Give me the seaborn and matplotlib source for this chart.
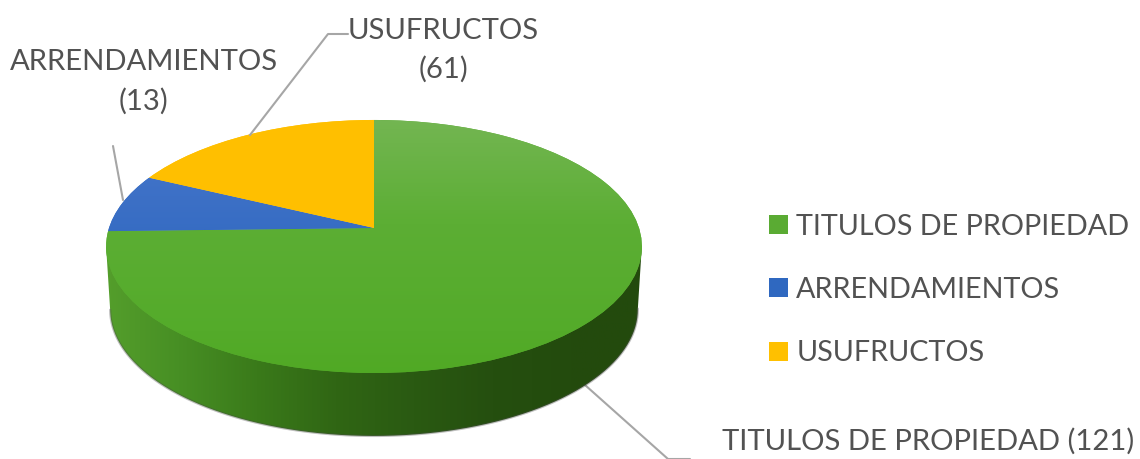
import numpy as np
import matplotlib
matplotlib.use('Agg')
import matplotlib.pyplot as plt
from matplotlib.path import Path
from matplotlib.patches import PathPatch
from matplotlib.transforms import Transform
import seaborn as sns

categorias = ['TITULOS DE PROPIEDAD', 'ARRENDAMIENTOS', 'USUFRUCTOS']
cantidades = [121, 13, 61]
# slices in the picture do not follow the counts, so read their shares separately
porciones = [74.6, 7.5, 17.9]
colores = ['#5aab33', '#2f68c0', '#ffc000']

sns.set_theme(style='white')
plt.rcParams['font.family'] = ['Lato', 'DejaVu Sans']
gris = '#525252'


# tilted pie, the centre of the circle sits above the centre of the ellipse
class Perspectiva(Transform):
    input_dims = output_dims = 2

    def transform_non_affine(self, xy):
        xy = np.asarray(xy)
        w = 1 + 0.146 * xy[:, 1]
        return np.column_stack([374 + 265 * xy[:, 0] / w, 228 - 123.8 * xy[:, 1] / w])


persp = Perspectiva()
fig = plt.figure(figsize=(11.4, 4.59), dpi=100)
ax = fig.add_axes([0, 0, 1, 1])

wedges, _ = ax.pie(porciones, colors=colores, startangle=90, counterclock=False,
                   wedgeprops={'linewidth': 0})
wedges = list(wedges)


def degradado(cols, horizontal, zorder):
    cmap = sns.blend_palette(cols, as_cmap=True)
    g = np.linspace(0, 1, 256)
    g = g.reshape(1, -1) if horizontal else g.reshape(-1, 1)
    return ax.imshow(g, cmap=cmap, extent=(100, 650, 440, 115), aspect='auto', zorder=zorder)


# side wall
t = np.linspace(0, 2 * np.pi, 360)
borde = persp.transform(np.column_stack([np.cos(t), np.sin(t)]))
izq = borde[borde[:, 0].argmin()]
der = borde[borde[:, 0].argmax()]
inf = borde[borde[:, 1] >= np.interp(borde[:, 0], [izq[0], der[0]], [izq[1], der[1]])]
inf = inf[np.argsort(inf[:, 0])]
prof = 63
# bottom rim is a bit narrower than the top one
fondo = np.column_stack([374 + (inf[:, 0] - 374) * 0.985, inf[:, 1] + prof])
verts = np.vstack([izq, der, fondo[::-1], izq])
pared = PathPatch(Path(verts), transform=ax.transData, fc='none', ec='none')
ax.add_patch(pared)
im = degradado(['#559f2c', '#478f24', '#3a7a1a', '#306614', '#2a5a12', '#254f0f', '#234b0d', '#234a0d'], True, 1)
im.set_clip_path(pared)
# soft rim round the wall
ax.plot(fondo[:, 0], fondo[:, 1], color='#4a4a4a', lw=1.6, alpha=0.35, zorder=1.5)

# top of the pie
for w in wedges:
    w.set_transform(persp + ax.transData)
    w.set_zorder(2)
    w.set_clip_on(False)
grad = [['#74b653', '#5cae34', '#54ab2a', '#4ba61c'],
        ['#4a78cc', '#2f68c0', '#1c5cb6'],
        ['#ffc000', '#ffbf00', '#f4b400']]
for w, cols in zip(wedges, grad):
    img = degradado(cols, False, 3)
    img.set_clip_path(w)

# leader lines
ax.plot([348, 328, 250], [34, 34, 135], color='#a6a6a6', lw=1.5, zorder=4)
ax.plot([113, 123], [146, 200], color='#a6a6a6', lw=1.5, zorder=4)
ax.plot([585, 668, 690], [385, 459, 459], color='#a6a6a6', lw=1.5, zorder=0)

fs = 21.1
ax.text(443, 50, f'{categorias[2]}\n({cantidades[2]})', ha='center', va='center',
        fontsize=fs, color=gris, linespacing=1.55)
ax.text(144, 82, f'{categorias[1]}\n({cantidades[1]})', ha='center', va='center',
        fontsize=fs, color=gris, linespacing=1.6)
ax.text(928, 441, f'{categorias[0]} ({cantidades[0]})', ha='center', va='center',
        fontsize=fs, color=gris)

ax.legend(wedges, categorias, loc='center left', bbox_to_anchor=(769, 290),
          bbox_transform=ax.transData, frameon=False, fontsize=20.7, labelcolor=gris,
          handlelength=0.65, handleheight=0.65, handletextpad=0.3, labelspacing=1.3,
          borderpad=0, borderaxespad=0)

ax.set_aspect('auto')
ax.set_xlim(0, 1140)
ax.set_ylim(459, 0)
ax.axis('off')
fig.savefig('out.png', dpi=100)
